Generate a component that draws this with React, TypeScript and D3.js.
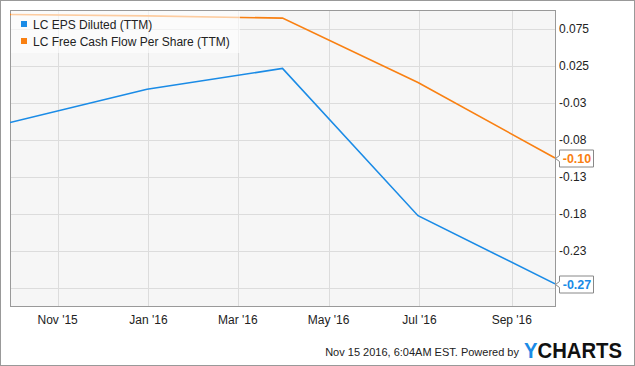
import React from "react";
import * as d3 from "d3";

const dates = ["2015-09-30", "2015-12-31", "2016-03-31", "2016-06-30", "2016-09-30"];
const epsValues = [-0.052, -0.007, 0.021, -0.178, -0.27];
const fcfValues = [0.094, 0.092, 0.089, 0.002, -0.1];
const seriesNames = ["LC EPS Diluted (TTM)", "LC Free Cash Flow Per Share (TTM)"];
const seriesColors = ["#1a8be6", "#f98012"];
const endLabels = ["-0.27", "-0.10"];
const yTicks = [0.075, 0.025, -0.025, -0.075, -0.125, -0.175, -0.225, -0.275];
const yTickLabels = ["0.075", "0.025", "-0.03", "-0.08", "-0.13", "-0.18", "-0.23", ""];
const xTicks = ["2015-11-01", "2016-01-01", "2016-03-01", "2016-05-01", "2016-07-01", "2016-09-01"];
const xTickLabels = ["Nov '15", "Jan '16", "Mar '16", "May '16", "Jul '16", "Sep '16"];

const W = 635;
const H = 366;
const left = 10, right = 555, top = 10, bottom = 306;
const font = "Arial, 'Liberation Sans', sans-serif";

export default function App() {
  const parse = d3.utcParse("%Y-%m-%d");
  const x = d3.scaleUtc().domain([parse("2015-09-30")!, parse("2016-09-30")!]).range([left, right]);
  const y = d3.scaleLinear().domain([-0.3, 0.1]).range([bottom, top]);
  const line = d3.line<[Date, number]>().x(d => x(d[0])).y(d => y(d[1]));
  const series = [epsValues, fcfValues].map(vals => vals.map((v, i) => [parse(dates[i])!, v] as [Date, number]));

  return (
    <svg width={W} height={H} style={{ position: "absolute", left: 0, top: 0, fontFamily: font }}>
      <rect x={0.5} y={0.5} width={W - 1} height={H - 1} fill="#fff" stroke="#999" />
      <rect x={left} y={top} width={right - left} height={bottom - top} fill="#f6f6f6" />
      {yTicks.map((t, i) => (
        <line key={"gy" + i} x1={left} x2={right} y1={Math.round(y(t)) + 0.5} y2={Math.round(y(t)) + 0.5} stroke="#dcdcdc" />
      ))}
      {xTicks.map((t, i) => {
        const px = Math.round(x(parse(t)!)) + 0.5;
        return <line key={"gx" + i} x1={px} x2={px} y1={top} y2={bottom} stroke="#dcdcdc" />;
      })}
      <rect x={left + 0.5} y={top + 0.5} width={right - left} height={bottom - top} fill="none" stroke="#999" />
      <defs>
        <clipPath id="plotclip">
          <rect x={left} y={top} width={right - left} height={bottom - top} />
        </clipPath>
      </defs>
      <g clipPath="url(#plotclip)">
        {series.map((s, i) => (
          <path key={"s" + i} d={line(s)!} fill="none" stroke={seriesColors[i]} strokeWidth={1.6} />
        ))}
      </g>
      <rect x={left + 1} y={top + 1} width={229} height={42} fill="#ffffff" fillOpacity={0.6} />
      {seriesNames.map((n, i) => (
        <g key={"lg" + i}>
          <rect x={21} y={21 + i * 17} width={6} height={6} fill={seriesColors[i]} />
          <text x={33} y={28.5 + i * 17} fontSize={12} fill="#222">{n}</text>
        </g>
      ))}
      {yTicks.map((t, i) => (
        <text key={"ty" + i} x={559} y={y(t) + 4.5} fontSize={12} fill="#222">{yTickLabels[i]}</text>
      ))}
      {xTicks.map((t, i) => (
        <text key={"tx" + i} x={x(parse(t)!)} y={324} fontSize={12} fill="#222" textAnchor="middle">{xTickLabels[i]}</text>
      ))}
      {series.map((s, i) => {
        const last = s[s.length - 1];
        const py = Math.round(y(last[1])) + 0.5;
        const bx = 559.5, bw = 34, bh = 17;
        const d = `M${bx},${py - bh / 2} L${bx + bw},${py - bh / 2} L${bx + bw},${py + bh / 2} L${bx},${py + bh / 2} L${bx},${py + 3} L${bx - 4},${py} L${bx},${py - 3} Z`;
        return (
          <g key={"el" + i}>
            <path d={d} fill="#fff" stroke="#888" />
            <text x={bx + bw / 2 + 0.5} y={py + 4.5} fontSize={12.5} fontWeight="bold" fill={seriesColors[i]} textAnchor="middle">{endLabels[i]}</text>
          </g>
        );
      })}
      <text x={519} y={356} fontSize={11} fill="#222" textAnchor="end">Nov 15 2016, 6:04AM EST.  Powered by</text>
      <text x={524} y={358} fontSize={22} fontWeight="bold" textLength={98} lengthAdjust="spacingAndGlyphs">
        <tspan fill="#1a8be6">Y</tspan>
        <tspan fill="#111">CHARTS</tspan>
      </text>
    </svg>
  );
}
